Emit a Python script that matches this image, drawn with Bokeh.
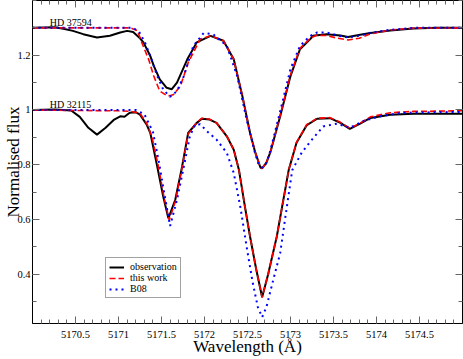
from bokeh.plotting import figure
from bokeh.models import Legend, LegendItem, LinearAxis, FixedTicker, Range1d
from bokeh.core.properties import value
from bokeh.embed import file_html
from bokeh.resources import INLINE

# ---------------- data ----------------
# HD 37594 (shifted by +0.3 in the plot)
obs_37594_wl = [5170.00, 5170.26, 5170.36, 5170.47, 5170.59, 5170.75, 5170.90, 5171.02, 5171.10, 5171.17,
                5171.25, 5171.29, 5171.37, 5171.41, 5171.48, 5171.56, 5171.62, 5171.68, 5171.80, 5171.91,
                5172.07, 5172.22, 5172.34, 5172.44, 5172.53, 5172.59, 5172.65, 5172.67, 5172.72, 5172.77,
                5172.88, 5173.00, 5173.11, 5173.23, 5173.26, 5173.42, 5173.58, 5173.67, 5173.81, 5173.93,
                5174.16, 5174.43, 5174.70, 5175.00]
obs_37594_fx = [1.300, 1.302, 1.297, 1.289, 1.277, 1.265, 1.271, 1.283, 1.289, 1.285,
                1.262, 1.247, 1.197, 1.161, 1.112, 1.081, 1.076, 1.100, 1.185, 1.247,
                1.271, 1.253, 1.185, 1.051, 0.916, 0.845, 0.790, 0.787, 0.808, 0.850,
                0.977, 1.124, 1.222, 1.259, 1.271, 1.277, 1.272, 1.267, 1.275, 1.281,
                1.290, 1.298, 1.300, 1.300]

work_37594_wl = [5170.00, 5171.14, 5171.22, 5171.27, 5171.35, 5171.41, 5171.48, 5171.56, 5171.60, 5171.64,
                 5171.72, 5171.81, 5171.95, 5172.07, 5172.22, 5172.34, 5172.44, 5172.53, 5172.59, 5172.65,
                 5172.67, 5172.72, 5172.77, 5172.88, 5173.00, 5173.11, 5173.23, 5173.30, 5173.42, 5173.55,
                 5173.67, 5173.80, 5173.93, 5174.16, 5174.43, 5175.00]
work_37594_fx = [1.300, 1.300, 1.290, 1.247, 1.185, 1.124, 1.069, 1.053, 1.052, 1.057,
                 1.087, 1.173, 1.259, 1.271, 1.253, 1.185, 1.051, 0.916, 0.845, 0.790,
                 0.787, 0.808, 0.850, 0.980, 1.128, 1.225, 1.262, 1.273, 1.272, 1.262,
                 1.256, 1.262, 1.278, 1.292, 1.299, 1.300]

b08_37594_wl = [5170.00, 5171.17, 5171.24, 5171.31, 5171.39, 5171.45, 5171.52, 5171.60, 5171.68, 5171.76,
                5171.87, 5171.99, 5172.10, 5172.26, 5172.38, 5172.49, 5172.59, 5172.63, 5172.67, 5172.71,
                5172.76, 5172.88, 5173.00, 5173.11, 5173.23, 5173.31, 5173.42, 5173.58, 5173.67, 5173.81,
                5173.93, 5174.16, 5174.43, 5175.00]
b08_37594_fx = [1.300, 1.300, 1.285, 1.245, 1.180, 1.124, 1.075, 1.048, 1.069, 1.124,
                1.234, 1.281, 1.277, 1.234, 1.124, 0.965, 0.840, 0.800, 0.790, 0.800,
                0.845, 0.995, 1.150, 1.234, 1.271, 1.283, 1.283, 1.270, 1.265, 1.272,
                1.282, 1.293, 1.300, 1.300]

# HD 32115
obs_32115_wl = [5170.00, 5170.26, 5170.45, 5170.55, 5170.65, 5170.75, 5170.85, 5170.95, 5171.02, 5171.07,
                5171.13, 5171.20, 5171.25, 5171.33, 5171.37, 5171.45, 5171.52, 5171.58, 5171.66, 5171.74,
                5171.81, 5171.91, 5171.97, 5172.06, 5172.14, 5172.26, 5172.34, 5172.40, 5172.47, 5172.53,
                5172.60, 5172.67, 5172.74, 5172.84, 5172.98, 5173.07, 5173.19, 5173.31, 5173.46, 5173.58,
                5173.69, 5173.81, 5173.93, 5174.16, 5174.43, 5175.00]
obs_32115_fx = [1.000, 1.002, 0.998, 0.975, 0.935, 0.910, 0.935, 0.965, 0.977, 0.975,
                0.990, 0.992, 0.983, 0.945, 0.916, 0.794, 0.684, 0.604, 0.672, 0.794,
                0.916, 0.953, 0.968, 0.965, 0.953, 0.904, 0.855, 0.782, 0.647, 0.537,
                0.420, 0.316, 0.400, 0.537, 0.782, 0.880, 0.945, 0.968, 0.970, 0.953,
                0.931, 0.950, 0.971, 0.983, 0.986, 0.986]

work_32115_wl = [5170.00, 5170.60, 5171.00, 5171.14, 5171.25, 5171.33, 5171.39, 5171.46, 5171.53, 5171.59,
                 5171.66, 5171.74, 5171.81, 5171.91, 5171.97, 5172.06, 5172.14, 5172.26, 5172.34, 5172.40,
                 5172.47, 5172.53, 5172.60, 5172.67, 5172.74, 5172.84, 5172.98, 5173.07, 5173.19, 5173.31,
                 5173.46, 5173.58, 5173.69, 5173.81, 5173.93, 5174.16, 5174.43, 5175.00]
work_32115_fx = [1.000, 0.998, 0.997, 0.995, 0.988, 0.950, 0.900, 0.800, 0.680, 0.598,
                 0.665, 0.790, 0.912, 0.955, 0.970, 0.966, 0.953, 0.904, 0.855, 0.782,
                 0.647, 0.537, 0.420, 0.316, 0.400, 0.537, 0.782, 0.882, 0.947, 0.970,
                 0.972, 0.955, 0.933, 0.952, 0.975, 0.990, 0.995, 0.997]

b08_32115_wl = [5170.00, 5171.20, 5171.30, 5171.40, 5171.47, 5171.53, 5171.60, 5171.68, 5171.76, 5171.83,
                5171.89, 5171.95, 5172.03, 5172.14, 5172.26, 5172.34, 5172.42, 5172.49, 5172.56, 5172.62,
                5172.67, 5172.72, 5172.80, 5172.88, 5172.95, 5173.02, 5173.13, 5173.25, 5173.38, 5173.54,
                5173.69, 5173.85, 5174.04, 5174.30, 5175.00]
b08_32115_fx = [1.000, 1.000, 0.985, 0.920, 0.810, 0.700, 0.576, 0.672, 0.794, 0.905,
                0.946, 0.948, 0.922, 0.892, 0.843, 0.770, 0.640, 0.500, 0.370, 0.280,
                0.243, 0.280, 0.380, 0.477, 0.630, 0.780, 0.844, 0.892, 0.940, 0.950,
                0.935, 0.960, 0.977, 0.990, 0.993]

star_names = ["HD 37594", "HD 32115"]
star_label_x = [5170.2, 5170.2]
star_label_y = [1.32, 1.02]

series_labels = ["observation", "this work", "B08"]

x_major = [5170.5, 5171.0, 5171.5, 5172.0, 5172.5, 5173.0, 5173.5, 5174.0, 5174.5]
x_major_labels = ["5170.5", "5171", "5171.5", "5172", "5172.5", "5173", "5173.5", "5174", "5174.5"]
x_minor = [round(5170.0 + 0.1 * i, 1) for i in range(51)]
y_major = [0.4, 0.6, 0.8, 1.0, 1.2]
y_major_labels = ["0.4", "0.6", "0.8", "1", "1.2"]
y_minor = [round(0.2 + 0.1 * i, 1) for i in range(13)]

X_START, X_END = 5170.0, 5175.0
Y_START, Y_END = 0.22, 1.40

# ---------------- layout ----------------
W, H = 463, 359
BL, BR, BT, BB = 32, 1, 0, 36

FONT = "Liberation Serif"

p = figure(width=W, height=H, output_backend="svg", toolbar_location=None,
           x_range=Range1d(X_START, X_END), y_range=Range1d(Y_START, Y_END),
           min_border_left=BL, min_border_right=BR, min_border_top=BT, min_border_bottom=BB,
           x_axis_label="Wavelength (Å)", y_axis_label="Normalised flux")
p.title.visible = False
p.grid.visible = False
p.outline_line_color = "black"
p.outline_line_width = 1
p.background_fill_color = "white"
p.border_fill_color = "white"


def style_axis(ax, ticks, minor, labels, show_labels=True):
    ax.ticker = FixedTicker(ticks=ticks, minor_ticks=minor)
    ax.axis_line_color = "black"
    ax.axis_line_width = 1
    ax.major_tick_in = 7
    ax.major_tick_out = 0
    ax.minor_tick_in = 4
    ax.minor_tick_out = 0
    ax.major_tick_line_color = "#666666"
    ax.minor_tick_line_color = "#666666"
    ax.major_tick_line_width = 1
    ax.minor_tick_line_width = 1
    ax.major_label_overrides = {t: l for t, l in zip(ticks, labels)}
    ax.major_label_text_font = FONT
    ax.major_label_text_color = "black"
    if show_labels:
        ax.major_label_text_font_size = "10.5px"
        ax.major_label_standoff = 2
    else:
        ax.major_label_text_font_size = "0px"
        ax.major_label_standoff = 0


style_axis(p.xaxis[0], x_major, x_minor, x_major_labels)
style_axis(p.yaxis[0], y_major, y_minor, y_major_labels)
for ax in (p.xaxis[0], p.yaxis[0]):
    ax.axis_label_text_font = FONT
    ax.axis_label_text_font_size = "17px"
    ax.axis_label_text_font_style = "normal"
    ax.axis_label_text_color = "black"
p.xaxis[0].major_label_standoff = 7
p.xaxis[0].axis_label_standoff = -4
p.yaxis[0].axis_label_standoff = -9

top_axis = LinearAxis()
style_axis(top_axis, x_major, x_minor, ["" for _ in x_major], show_labels=False)
p.add_layout(top_axis, "above")
right_axis = LinearAxis()
style_axis(right_axis, y_major, y_minor, ["" for _ in y_major], show_labels=False)
p.add_layout(right_axis, "right")

# ---------------- glyphs ----------------
OBS = dict(line_color="black", line_width=2)
WORK = dict(line_color="red", line_width=1.6, line_dash="6 3")
B08 = dict(line_color="blue", line_width=2, line_dash="2 4")

p.line(obs_37594_wl, obs_37594_fx, **OBS)
p.line(work_37594_wl, work_37594_fx, **WORK)
p.line(b08_37594_wl, b08_37594_fx, **B08)
r_obs = p.line(obs_32115_wl, obs_32115_fx, **OBS)
r_work = p.line(work_32115_wl, work_32115_fx, **WORK)
r_b08 = p.line(b08_32115_wl, b08_32115_fx, **B08)

p.text(x=star_label_x, y=star_label_y, text=star_names, text_font=value(FONT),
       text_font_size="10px", text_color="black", text_baseline="alphabetic", text_align="left")

legend = Legend(items=[LegendItem(label=series_labels[0], renderers=[r_obs]),
                       LegendItem(label=series_labels[1], renderers=[r_work]),
                       LegendItem(label=series_labels[2], renderers=[r_b08])],
                location=(73, 25),
                label_text_font=FONT, label_text_font_size="10px", label_text_color="black",
                glyph_width=15, glyph_height=10, label_height=10, label_standoff=6,
                spacing=0, padding=3, margin=0,
                border_line_color="#444444", border_line_width=1,
                background_fill_color="white", background_fill_alpha=1)
p.add_layout(legend)

open("out.html", "w").write(file_html(p, INLINE))
